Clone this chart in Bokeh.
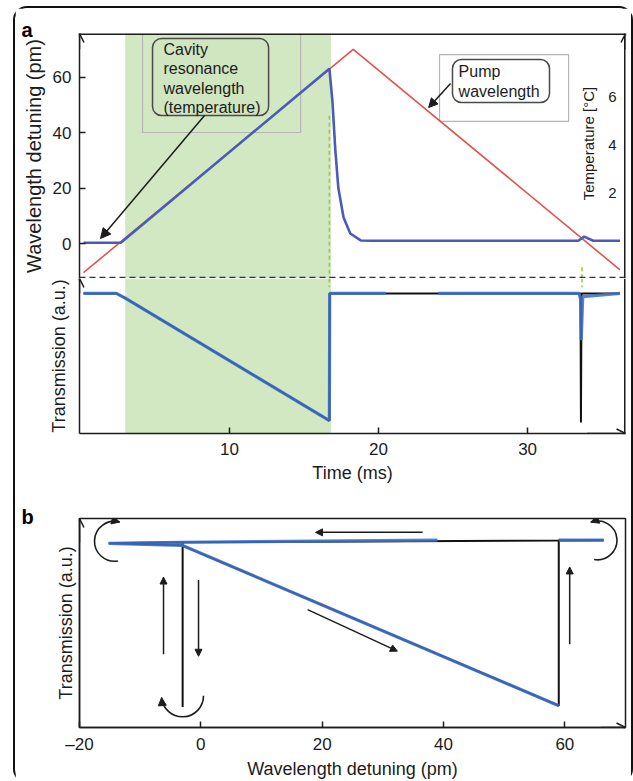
import numpy as np
from bokeh.plotting import figure
from bokeh.models import (Range1d, FixedTicker, Label, Arrow, NormalHead, OpenHead,
                          BoxAnnotation, Span)
from bokeh.layouts import column
from bokeh.embed import file_html
from bokeh.resources import INLINE

FONT = "Liberation Sans"
nan = float("nan")

# ---------------- Panel a data ----------------
time_ticks = [10, 20, 30]
wl_ticks = [0, 20, 40, 60]
temp_ticks = [2, 4, 6]

pump_time = [0.2, 18.3, 36.2]
pump_pm = [-10.5, 70.0, -9.5]

cav_time = [0.2, 2.7, 16.7, 16.9, 17.1, 17.3, 17.65, 18.1, 18.8, 19.5, 33.4, 33.8, 34.4, 36.2]
cav_pm = [0.3, 0.3, 63.0, 51.5, 33.5, 20.0, 9.4, 3.6, 1.1, 1.0, 1.0, 2.5, 1.0, 1.0]

trans_model_time = [0.2, 2.4, 3.0, 16.7, 16.72, 33.55, 33.58, 33.62, 36.2]
trans_model_val = [0.9, 0.9, 0.87, 0.083, 0.9, 0.9, 0.07, 0.9, 0.9]

trans_meas_time = [0.2, 2.4, 3.0, 16.7, 16.72, 20.5, nan, 24.0, 33.45, 33.56, 33.6, 33.7, 36.2]
trans_meas_val = [0.9, 0.9, 0.87, 0.083, 0.9, 0.9, nan, 0.9, 0.9, 0.86, 0.6, 0.88, 0.9]

heat_start, heat_end = 3.0, 16.8
switch_times = [16.7, 33.65]

# ---------------- Panel b data ----------------
b_ticks = [-20, 0, 20, 40, 60]
b_model_pm = [-15.2, -3.1, 59.0, 59.0, 66.4, nan, 66.4, -3.0, -3.0, -3.0, -15.2]
b_model_T = [0.895, 0.885, 0.106, 0.91, 0.91, nan, 0.91, 0.9, 0.10, 0.9, 0.895]
b_meas_pm = [-15.2, -3.1, 59.0, nan, 59.0, 66.4, nan, 39.0, -3.1, -15.2]
b_meas_T = [0.895, 0.885, 0.106, nan, 0.91, 0.91, nan, 0.91, 0.9, 0.895]

INK = "#1c1c1c"
GREEN = "#d1e8c3"
BLUE = "#3d6fc9"

XR = (-0.07, 36.57)


def style_axis(ax, fs="17px"):
    ax.axis_line_color = INK
    ax.axis_line_width = 1.5
    ax.major_tick_line_color = INK
    ax.major_tick_line_width = 1.5
    ax.major_tick_in = 6
    ax.major_tick_out = 0
    ax.minor_tick_line_color = None
    ax.major_label_text_font = FONT
    ax.major_label_text_font_size = fs
    ax.major_label_text_color = INK
    ax.axis_label_text_font = FONT
    ax.axis_label_text_font_size = "18px"
    ax.axis_label_text_font_style = "normal"
    ax.axis_label_text_color = INK


def panel_title(p, text, standoff):
    p.title.text = text
    p.title.align = "left"
    p.title.offset = -58
    p.title.standoff = standoff
    p.title.text_font = FONT
    p.title.text_font_size = "20px"
    p.title.text_font_style = "bold"
    p.title.text_color = "black"


def axis_head(p, xs, ys, xe, ye, **kw):
    p.add_layout(Arrow(end=OpenHead(size=9, line_color=INK, line_width=1.5),
                       x_start=xs, y_start=ys, x_end=xe, y_end=ye,
                       line_color=INK, line_width=1.5, **kw))


def edge(p, loc, dim, **kw):
    p.add_layout(Span(location=loc, dimension=dim, line_color=INK, line_width=3, **kw))


def callout(p, box, text, tx, ty, fill):
    left, right, bottom, top = box
    p.add_layout(BoxAnnotation(left=left, right=right, bottom=bottom, top=top,
                               fill_color=fill, fill_alpha=1, line_color="#4a4a4a",
                               line_alpha=1, line_width=1.5, border_radius=9))
    p.add_layout(Label(x=tx, y=ty, text=text, text_font=FONT, text_font_size="16px",
                       text_color=INK, text_line_height=1.15,
                       text_align="left", text_baseline="top"))


# ================= Panel a, upper: wavelength =================
pt = figure(width=616, height=270, output_backend="svg", toolbar_location=None,
            x_range=Range1d(*XR), y_range=Range1d(-12.61, 75.68), x_axis_location=None,
            min_border_left=64, min_border_right=6, min_border_top=25, min_border_bottom=0)
pt.extra_y_ranges = {"temp": Range1d(-1.583, 8.625)}
pt.grid.visible = False
pt.outline_line_color = None
pt.yaxis.ticker = FixedTicker(ticks=wl_ticks)
pt.yaxis.axis_label = "Wavelength detuning (pm)"
style_axis(pt.yaxis[0])
pt.yaxis.major_label_standoff = 8
pt.yaxis.axis_label_text_font_size = "20px"
pt.yaxis.axis_label_standoff = 5
panel_title(pt, "a", -15)

pt.add_layout(BoxAnnotation(left=heat_start, right=heat_end, fill_color=GREEN, fill_alpha=1,
                            line_alpha=0, level="underlay"))
pt.quad(left=[4.16, 24.09], right=[14.77, 32.75], bottom=[40.0, 44.0], top=[76.5, 68.1],
        fill_alpha=0, line_color="#b5b5b5", line_width=1.2)
pt.line(pump_time, pump_pm, color="#e4534f", line_width=1.6)
pt.line(cav_time, cav_pm, color="#4a5bb8", line_width=2.6)
pt.add_layout(Span(location=-12.25, dimension="width", line_color="#333333",
                   line_dash="6 4", line_width=1.3))
pt.segment(x0=switch_times, y0=[46.0, -8.6], x1=switch_times, y1=[-13.0, -13.0],
           color="#9acb3c", line_dash="4 3", line_width=1.6)

callout(pt, (4.83, 12.62, 46.13, 73.87), "Cavity\nresonance\nwavelength\n(temperature)",
        5.57, 73.15, "#cfe6c0")
callout(pt, (24.96, 31.47, 50.81, 66.31), "Pump\nwavelength", 25.37, 65.0, "white")

pt.add_layout(Arrow(end=NormalHead(size=10, fill_color=INK, line_color=INK),
                    x_start=8.32, y_start=46.1, x_end=1.34, y_end=1.8,
                    line_color=INK, line_width=1.5))
pt.add_layout(Arrow(end=NormalHead(size=9, fill_color=INK, line_color=INK),
                    x_start=24.83, y_start=57.7, x_end=23.36, y_end=49.0,
                    line_color=INK, line_width=1.5))

pt.add_layout(Label(x=34.09, y=4.04, y_range_name="temp", text="Temperature [°C]",
                    angle=np.pi / 2, text_font=FONT, text_font_size="15px", text_color=INK,
                    text_align="center", text_baseline="middle"))
for t in temp_ticks:
    pt.add_layout(Label(x=35.70, y=t, y_range_name="temp", text=str(t),
                        text_font=FONT, text_font_size="15px", text_color=INK,
                        text_align="center", text_baseline="middle"))

edge(pt, 75.68, "width")
edge(pt, XR[1], "height")
axis_head(pt, XR[0], 70, XR[0], 75.68)
axis_head(pt, XR[1], 70, XR[1], 75.68)

# ================= Panel a, lower: transmission =================
pl = figure(width=616, height=222, output_backend="svg", toolbar_location=None,
            x_range=pt.x_range, y_range=Range1d(0, 0.996),
            min_border_left=64, min_border_right=6, min_border_top=0, min_border_bottom=67)
pl.grid.visible = False
pl.outline_line_color = None
pl.xaxis.ticker = FixedTicker(ticks=time_ticks)
pl.yaxis.ticker = FixedTicker(ticks=[])
pl.xaxis.axis_label = "Time (ms)"
pl.yaxis.axis_label = "Transmission (a.u.)"
style_axis(pl.xaxis[0])
style_axis(pl.yaxis[0])
pl.xaxis.major_label_standoff = 9
pl.xaxis.axis_label_standoff = 5
pl.yaxis.axis_label_standoff = 11

pl.add_layout(BoxAnnotation(left=heat_start, right=heat_end, fill_color=GREEN, fill_alpha=1,
                            line_alpha=0, level="underlay"))
pl.segment(x0=switch_times, y0=[0.996, 0.996], x1=switch_times, y1=[0.94, 0.94],
           color="#9acb3c", line_dash="4 3", line_width=1.6)
pl.line(trans_model_time, trans_model_val, color="#111111", line_width=2)
pl.line(trans_meas_time, trans_meas_val, color=BLUE, line_width=3.2, line_alpha=0.88)
edge(pl, XR[1], "height")
axis_head(pl, XR[0], 0.9, XR[0], 0.996)
axis_head(pl, 34.0, 0, XR[1], 0)

# ================= Panel b =================
pb = figure(width=616, height=281, output_backend="svg", toolbar_location=None,
            x_range=Range1d(-20, 70), y_range=Range1d(0, 1.0154),
            min_border_left=64, min_border_right=6, min_border_top=18, min_border_bottom=52)
pb.grid.visible = False
pb.outline_line_color = INK
pb.outline_line_width = 1.5
pb.xaxis.ticker = FixedTicker(ticks=b_ticks)
pb.xaxis.major_label_overrides = {-20: "\u201320"}
pb.yaxis.ticker = FixedTicker(ticks=[])
pb.xaxis.axis_label = "Wavelength detuning (pm)"
pb.yaxis.axis_label = "Transmission (a.u.)"
style_axis(pb.xaxis[0], "17px")
style_axis(pb.yaxis[0])
pb.xaxis.major_label_standoff = 7
pb.xaxis.axis_label_standoff = 2
pb.yaxis.axis_label_standoff = 4
panel_title(pb, "b", -18)

pb.line(b_model_pm, b_model_T, color="#111111", line_width=2)
pb.line(b_meas_pm, b_meas_T, color=BLUE, line_width=3.2, line_alpha=0.88)

SXB = 546 / 90.0
SYB = 211 / 1.0154

straight_arrows = [  # x0, y0, x1, y1
    (-6.15, 0.356, -6.15, 0.731),
    (-0.38, 0.717, -0.38, 0.346),
    (36.55, 0.948, 18.9, 0.948),
    (17.6, 0.573, 32.4, 0.371),
    (60.8, 0.404, 60.8, 0.78),
]
for x0, y0, x1, y1 in straight_arrows:
    pb.add_layout(Arrow(end=NormalHead(size=7, fill_color=INK, line_color=INK),
                        x_start=x0, y_start=y0, x_end=x1, y_end=y1,
                        line_color=INK, line_width=1.5))

loops = [  # cx, cy, radius px, start deg, end deg, head deg, clockwise head
    (-14.23, 0.905, 20, 75, 280, 75, True),
    (65.38, 0.9095, 19.5, -100, 110, 110, False),
    (-3.02, 0.154, 21, 185, 360, 185, True),
]
for cx, cy, r, a0, a1, ah, cw in loops:
    pb.arc(x=[cx], y=[cy], radius=r, radius_units="screen",
           start_angle=np.radians(a0), end_angle=np.radians(a1),
           line_color=INK, line_width=1.6)
    a = np.radians(ah)
    tx = cx + r * np.cos(a) / SXB
    ty = cy + r * np.sin(a) / SYB
    dx, dy = (np.sin(a), -np.cos(a)) if cw else (-np.sin(a), np.cos(a))
    pb.add_layout(Arrow(end=NormalHead(size=8, fill_color=INK, line_color=INK),
                        x_start=tx - 4 * dx / SXB, y_start=ty - 4 * dy / SYB,
                        x_end=tx, y_end=ty, line_color=INK, line_width=1.5))

axis_head(pb, -20, 0.9, -20, 1.0154)
axis_head(pb, 66, 0, 70, 0)

layout = column(pt, pl, pb, margin=(6, 0, 0, 13),
                styles={"border": "2px solid #111111", "border-radius": "14px"})

open("out.html", "w").write(file_html(layout, INLINE))
